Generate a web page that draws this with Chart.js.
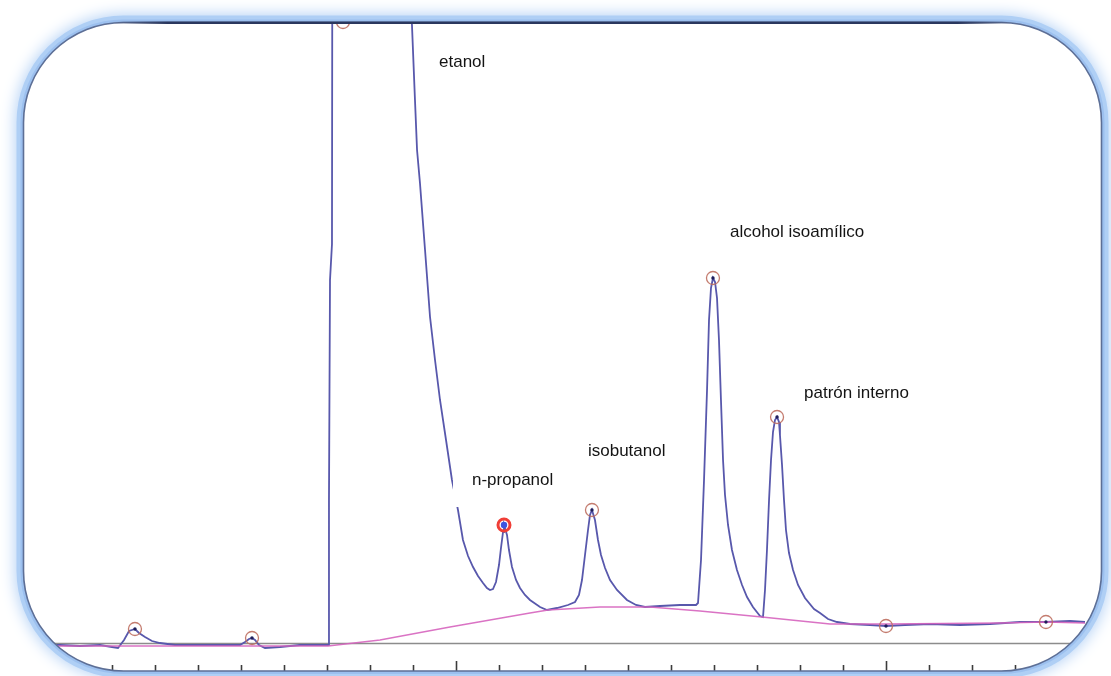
<!DOCTYPE html>
<html lang="es">
<head>
<meta charset="utf-8">
<title>Cromatograma de alcoholes</title>
<script src="https://cdn.jsdelivr.net/npm/chart.js@4.4.1/dist/chart.umd.min.js"></script>
<style>
  html, body { margin: 0; padding: 0; background: #fff; }
  #marco { position: relative; width: 1111px; height: 676px; }
</style>
</head>
<body>
<div id="marco"><canvas id="cromatograma"></canvas></div>
<script>
// Señal del detector: tiempo de retención (min) y respuesta (mV)
const tiempos = [
  0, 0.395, 0.628, 0.860, 1.000, 1.070, 1.140, 1.198, 1.267, 1.314, 1.384, 1.465, 1.558, 1.733,
  2.023, 2.314, 2.488, 2.547, 2.593, 2.628, 2.663, 2.709, 2.779, 2.953, 3.186, 3.419,
  3.512, 3.523, 3.535, 3.558, 3.562, 3.600, 3.686, 4.349, 4.442, 4.488,
  4.523, 4.547, 4.581, 4.640, 4.698, 4.756, 4.814, 4.884, 4.953, 5.023, 5.081, 5.140, 5.198,
  5.256, 5.314, 5.360, 5.395, 5.430, 5.465, 5.500, 5.523, 5.547, 5.558, 5.593, 5.616, 5.651,
  5.698, 5.744, 5.802, 5.860, 5.977, 6.058, 6.174, 6.302, 6.384, 6.430, 6.465, 6.500, 6.535,
  6.558, 6.581, 6.616, 6.651, 6.686, 6.733, 6.791, 6.872, 6.988, 7.093, 7.198, 7.372, 7.605,
  7.791, 7.814, 7.849, 7.884, 7.919, 7.942, 7.965, 7.988,
  8.012, 8.035, 8.058, 8.081, 8.105, 8.128, 8.163, 8.209, 8.267, 8.326, 8.384, 8.453, 8.535, 8.570,
  8.593, 8.616, 8.640, 8.663, 8.686, 8.709, 8.733,
  8.756, 8.767, 8.791, 8.814, 8.837, 8.872, 8.919, 8.977, 9.058, 9.163, 9.233, 9.326, 9.430,
  9.581, 9.814, 10.000, 10.221, 10.512, 10.860, 11.209, 11.558, 11.860, 12.140, 12.314
];
const senal = [
  -0.1, -0.1, -0.2, -0.1, -0.3, -0.4, 0.4, 1.3, 1.5, 1.1, 0.7, 0.3, 0.1, -0.1,
  -0.1, -0.1, -0.1, 0.2, 0.5, 0.6, 0.4, -0.1, -0.4, -0.3, -0.1, -0.1,
  -0.1, 14.4, 36.4, 40.0, 70.0, 130.0, 160.0, 110.0, 75.0, 61.9,
  54.4, 49.4, 46.1, 39.4, 32.7, 28.4, 24.4, 20.4, 16.4, 13.4, 10.4, 8.8, 7.7,
  6.8, 6.1, 5.6, 5.4, 5.5, 6.2, 7.9, 9.6, 11.2, 11.9, 10.9, 9.4, 7.7,
  6.4, 5.6, 4.9, 4.4, 3.7, 3.4, 3.6, 3.9, 4.2, 4.9, 6.4, 8.9, 11.4,
  12.9, 13.4, 12.4, 10.4, 8.9, 7.6, 6.4, 5.4, 4.4, 3.9, 3.7, 3.8, 3.9,
  3.9, 4.1, 8.4, 16.4, 25.4, 32.4, 35.6, 36.6,
  36.2, 34.6, 30.4, 24.4, 18.4, 14.9, 11.9, 9.4, 7.4, 5.9, 4.7, 3.7, 2.8, 2.7,
  5.4, 9.4, 14.4, 18.4, 21.2, 22.4, 22.7,
  22.2, 20.9, 17.9, 14.4, 11.4, 9.1, 7.4, 5.9, 4.6, 3.5, 3.1, 2.5, 2.2,
  2.0, 1.9, 1.8, 1.9, 2.0, 1.9, 2.0, 2.2, 2.2, 2.3, 2.2
];

// Línea base de integración
const tiemposBase = [0, 2.605, 3.512, 4.116, 4.930, 5.860, 6.070, 6.674, 7.256, 7.837, 8.558, 9.349, 10.000, 11.326, 11.860, 12.314];
const lineaBase   = [-0.2, -0.2, -0.2, 0.4, 1.7, 3.1, 3.4, 3.7, 3.7, 3.3, 2.7, 2.0, 2.0, 2.1, 2.2, 2.1];

// Picos detectados
const nombresPicos = [null, null, 'etanol', 'n-propanol', 'isobutanol', 'alcohol isoamílico', 'patrón interno', null, null];
const tiemposPicos = [1.267, 2.628, 3.686, 5.558, 6.581, 7.988, 8.733, 10.000, 11.860];
const alturasPicos = [1.5, 0.6, 160.0, 11.9, 13.4, 36.6, 22.7, 1.8, 2.2];

// Eje de tiempo: marcas cada 0,5 min, mayores cada 5 min
const tiempoMin = 0, tiempoMax = 12.5, pasoMarcas = 0.5, pasoMayor = 5;
const respuestaMin = -2.1, respuestaMax = 62.2;

const picoResaltado = 'n-propanol';

// Posición de cada rótulo respecto a su marca de pico (px)
const rotulos = {
  'etanol':             { dx: 96,  dy: 40 },
  'n-propanol':         { dx: -32, dy: -45, fondo: { dx: -51, dy: -67, w: 110, h: 49 } },
  'isobutanol':         { dx: -4,  dy: -59 },
  'alcohol isoamílico': { dx: 17,  dy: -46 },
  'patrón interno':     { dx: 27,  dy: -24 }
};

function trazoRedondeado(ctx, x, y, w, h, r) {
  ctx.moveTo(x + r, y);
  ctx.lineTo(x + w - r, y);
  ctx.arcTo(x + w, y, x + w, y + r, r);
  ctx.lineTo(x + w, y + h - r);
  ctx.arcTo(x + w, y + h, x + w - r, y + h, r);
  ctx.lineTo(x + r, y + h);
  ctx.arcTo(x, y + h, x, y + h - r, r);
  ctx.lineTo(x, y + r);
  ctx.arcTo(x, y, x + r, y, r);
  ctx.closePath();
}

const decoracion = {
  id: 'decoracion',
  beforeDatasetsDraw(chart) {
    // línea del cero de la señal
    const { ctx, chartArea, scales } = chart;
    const y0 = scales.y.getPixelForValue(0);
    ctx.save();
    ctx.strokeStyle = '#8c8c8c';
    ctx.lineWidth = 1.5;
    ctx.beginPath();
    ctx.moveTo(chartArea.left, y0 - 0.5);
    ctx.lineTo(chartArea.right, y0 - 0.5);
    ctx.stroke();
    ctx.restore();
  },
  afterDatasetsDraw(chart) {
    const { ctx, scales } = chart;
    const ex = scales.x;

    // marcas del eje de tiempo
    ctx.save();
    ctx.strokeStyle = '#3c3c3c';
    ctx.lineWidth = 1.6;
    const base = ex.top;
    ex.ticks.forEach(t => {
      const px = Math.round(ex.getPixelForValue(t.value)) + 0.5;
      const q = t.value / pasoMayor;
      const mayor = Math.abs(q - Math.round(q)) < 1e-6;
      ctx.beginPath();
      ctx.moveTo(px, mayor ? base - 4 : base);
      ctx.lineTo(px, base + 7);
      ctx.stroke();
    });
    ctx.restore();

    // rótulos de los picos
    const marcas = chart.getDatasetMeta(2).data;
    ctx.save();
    ctx.font = '17px "Liberation Sans", Arial, sans-serif';
    ctx.textBaseline = 'middle';
    ctx.textAlign = 'left';
    nombresPicos.forEach((nombre, i) => {
      if (!nombre || !rotulos[nombre]) return;
      const p = marcas[i];
      const r = rotulos[nombre];
      if (r.fondo) {
        ctx.fillStyle = '#ffffff';
        ctx.fillRect(p.x + r.fondo.dx, p.y + r.fondo.dy, r.fondo.w, r.fondo.h);
      }
      ctx.fillStyle = '#141414';
      ctx.fillText(nombre, p.x + r.dx, p.y + r.dy);
    });
    ctx.restore();
  },
  afterDraw(chart) {
    // marco redondeado con halo azul difuso
    const { ctx, width, height } = chart;
    const fx = 23.5, fy = 22.5, fw = 1078, fh = 648.5, fr = 100;
    ctx.save();
    ctx.beginPath();
    ctx.rect(0, 0, width, height);
    trazoRedondeado(ctx, fx, fy, fw, fh, fr);
    ctx.fillStyle = '#ffffff';
    ctx.fill('evenodd');
    ctx.clip('evenodd');
    ctx.shadowColor = 'rgba(165,200,243,1)';
    ctx.shadowBlur = 16;
    ctx.strokeStyle = '#afcff5';
    ctx.lineWidth = 14;
    ctx.beginPath();
    trazoRedondeado(ctx, fx, fy, fw, fh, fr);
    ctx.stroke();
    ctx.shadowBlur = 0;
    ctx.strokeStyle = 'rgba(140,180,233,0.55)';
    ctx.lineWidth = 6;
    ctx.stroke();
    ctx.restore();

    // borde: más oscuro en el tramo recto superior
    ctx.save();
    ctx.strokeStyle = '#5d6f96';
    ctx.lineWidth = 1.6;
    ctx.beginPath();
    trazoRedondeado(ctx, fx, fy, fw, fh, fr);
    ctx.stroke();
    const grad = ctx.createLinearGradient(fx + fr * 0.9, 0, fx + fw - fr * 0.9, 0);
    grad.addColorStop(0, 'rgba(42,55,94,0)');
    grad.addColorStop(0.06, 'rgba(42,55,94,1)');
    grad.addColorStop(0.94, 'rgba(42,55,94,1)');
    grad.addColorStop(1, 'rgba(42,55,94,0)');
    ctx.strokeStyle = grad;
    ctx.lineWidth = 2.4;
    ctx.beginPath();
    ctx.moveTo(fx + fr * 0.9, fy + 0.3);
    ctx.lineTo(fx + fw - fr * 0.9, fy + 0.3);
    ctx.stroke();
    ctx.restore();
  }
};

const esResaltado = c => nombresPicos[c.dataIndex] === picoResaltado;

new Chart(document.getElementById('cromatograma'), {
  type: 'line',
  data: {
    datasets: [
      {
        label: 'Señal',
        data: tiempos.map((t, i) => ({ x: t, y: senal[i] })),
        borderColor: 'rgb(88,88,172)',
        borderWidth: 1.8,
        pointRadius: 0,
        tension: 0,
        order: 3
      },
      {
        label: 'Línea base',
        data: tiemposBase.map((t, i) => ({ x: t, y: lineaBase[i] })),
        borderColor: 'rgba(214,100,190,0.9)',
        borderWidth: 1.5,
        pointRadius: 0,
        tension: 0,
        order: 2
      },
      {
        label: 'Picos',
        data: tiemposPicos.map((t, i) => ({ x: t, y: Math.min(alturasPicos[i], respuestaMax) })),
        showLine: false,
        clip: false,
        pointStyle: 'circle',
        pointRadius: c => esResaltado(c) ? 6 : 6.5,
        pointBorderWidth: c => esResaltado(c) ? 3 : 1.3,
        pointBorderColor: c => esResaltado(c) ? 'rgb(240,62,55)' : 'rgba(190,110,95,0.9)',
        pointBackgroundColor: 'rgba(0,0,0,0)',
        order: 1
      },
      {
        label: 'Centro de pico',
        data: tiemposPicos.map((t, i) => ({ x: t, y: Math.min(alturasPicos[i], respuestaMax) })),
        showLine: false,
        clip: false,
        pointStyle: 'circle',
        pointRadius: c => esResaltado(c) ? 3.2 : 1.7,
        pointBorderWidth: 0,
        pointBackgroundColor: c => esResaltado(c) ? 'rgb(62,85,225)' : 'rgb(30,30,90)',
        order: 0
      }
    ]
  },
  options: {
    responsive: true,
    maintainAspectRatio: false,
    devicePixelRatio: 1,
    animation: false,
    layout: { padding: { left: 26, right: 10, top: 22, bottom: 11 } },
    plugins: { legend: { display: false }, tooltip: { enabled: false } },
    scales: {
      x: {
        type: 'linear',
        min: tiempoMin,
        max: tiempoMax,
        ticks: { display: false, stepSize: pasoMarcas, maxTicksLimit: 100, includeBounds: false },
        grid: { display: false, drawTicks: false },
        border: { display: false }
      },
      y: {
        display: false,
        min: respuestaMin,
        max: respuestaMax
      }
    }
  },
  plugins: [decoracion]
});
</script>
</body>
</html>
